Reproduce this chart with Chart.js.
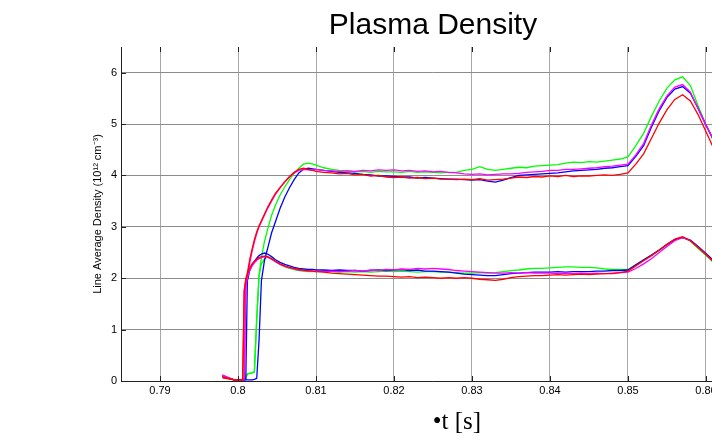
<!DOCTYPE html>
<html>
<head>
<meta charset="utf-8">
<script src="https://cdn.jsdelivr.net/npm/chart.js@4.4.1/dist/chart.umd.min.js"></script>
<style>
  html, body { margin: 0; padding: 0; background: #fff; overflow: hidden; }
  #wrap { width: 712px; height: 443px; overflow: hidden; }
</style>
</head>
<body>
<div id="wrap"><canvas id="chart" width="864" height="443"></canvas></div>
<script>
// time base shared by all traces (s)
const t = [
  0.798, 0.7995, 0.8004, 0.8006, 0.8008, 0.8010, 0.8012, 0.8015, 0.8018, 0.8021,
  0.8024, 0.8027, 0.8030, 0.8034, 0.8038, 0.8043, 0.8048, 0.8054, 0.8060, 0.8066,
  0.8072, 0.8078, 0.8084, 0.8090, 0.8096,
  0.810, 0.811, 0.812, 0.813, 0.814, 0.815, 0.816, 0.817, 0.818, 0.819,
  0.820, 0.821, 0.822, 0.823, 0.824, 0.825, 0.826, 0.827, 0.828, 0.829,
  0.830, 0.831, 0.832, 0.833, 0.834, 0.835, 0.836, 0.837, 0.838, 0.839,
  0.840, 0.841, 0.842, 0.843, 0.844, 0.845, 0.846, 0.847, 0.848, 0.849,
  0.850, 0.851, 0.852, 0.853, 0.854, 0.855, 0.856, 0.857, 0.858, 0.859,
  0.860, 0.861, 0.862
];

// line average density, upper (Hi) and lower (Lo) trace per colour
const redHi = [
  0.08, 0.02, 0.02, 0.03, 1.75, 1.98, 2.10, 2.36, 2.56, 2.75, 2.90, 3.02, 3.12,
  3.25, 3.38, 3.52, 3.65, 3.77, 3.88, 3.98, 4.06, 4.12, 4.14, 4.12, 4.10,
  4.08, 4.06, 4.05, 4.03, 4.04, 4.01, 4.02, 3.99, 4.00, 3.97,
  3.96, 3.97, 3.95, 3.96, 3.94, 3.95, 3.93, 3.93, 3.92, 3.93,
  3.92, 3.94, 3.91, 3.92, 3.93, 3.95, 3.97, 3.96, 3.98, 3.97,
  3.99, 3.98, 4.00, 3.98, 3.99, 3.99, 4.00, 4.01, 4.00, 4.02,
  4.05, 4.22, 4.42, 4.72, 5.02, 5.28, 5.48, 5.57, 5.45, 5.18, 4.85, 4.52, 4.20
];
const redLo = [
  0.06, 0.02, 0.02, 0.03, 1.75, 1.98, 2.08, 2.20, 2.28, 2.33, 2.37, 2.40, 2.42,
  2.43, 2.42, 2.38, 2.33, 2.28, 2.24, 2.21, 2.19, 2.17, 2.16, 2.15, 2.14,
  2.13, 2.12, 2.10, 2.09, 2.08, 2.07, 2.06, 2.05, 2.04, 2.04,
  2.03, 2.02, 2.03, 2.01, 2.02, 2.01, 2.00, 2.01, 2.00, 2.01,
  2.00, 1.98, 1.97, 1.96, 1.98, 2.01, 2.03, 2.04, 2.05, 2.05,
  2.06, 2.07, 2.06, 2.07, 2.08, 2.07, 2.08, 2.09, 2.09, 2.11,
  2.14, 2.24, 2.34, 2.44, 2.55, 2.66, 2.76, 2.81, 2.73, 2.60, 2.46, 2.32, 2.19
];
const magentaHi = [
  0.12, 0.02, 0.02, 0.02, 0.04, 1.85, 2.02, 2.30, 2.52, 2.71, 2.87, 3.00, 3.10,
  3.23, 3.36, 3.50, 3.63, 3.76, 3.87, 3.97, 4.05, 4.10, 4.12, 4.11, 4.10,
  4.12, 4.10, 4.09, 4.08, 4.09, 4.08, 4.10, 4.09, 4.11, 4.10,
  4.11, 4.09, 4.10, 4.08, 4.09, 4.07, 4.08, 4.06, 4.05, 4.03,
  4.02, 4.03, 4.01, 4.02, 4.03, 4.03, 4.04, 4.06, 4.07, 4.08,
  4.10, 4.10, 4.12, 4.12, 4.13, 4.14, 4.15, 4.17, 4.18, 4.20,
  4.22, 4.40, 4.62, 4.98, 5.30, 5.55, 5.72, 5.77, 5.62, 5.30, 4.98, 4.68, 4.38
];
const magentaLo = [
  0.10, 0.02, 0.02, 0.02, 0.04, 1.85, 2.02, 2.15, 2.24, 2.30, 2.35, 2.38, 2.40,
  2.42, 2.41, 2.37, 2.32, 2.27, 2.23, 2.20, 2.18, 2.16, 2.15, 2.14, 2.14,
  2.14, 2.13, 2.14, 2.13, 2.14, 2.15, 2.14, 2.16, 2.15, 2.17,
  2.16, 2.18, 2.17, 2.19, 2.18, 2.19, 2.18, 2.17, 2.15, 2.14,
  2.13, 2.12, 2.11, 2.10, 2.10, 2.11, 2.10, 2.11, 2.10, 2.10,
  2.10, 2.09, 2.10, 2.09, 2.10, 2.09, 2.10, 2.09, 2.10, 2.11,
  2.12, 2.19, 2.28, 2.38, 2.50, 2.62, 2.73, 2.79, 2.73, 2.60, 2.46, 2.31, 2.17
];
const blueHi = [
  0.10, 0.02, 0.02, 0.02, 0.02, 0.02, 0.02, 0.02, 0.02, 0.03, 0.05, 0.80, 1.95,
  2.35, 2.58, 2.88, 3.10, 3.36, 3.58, 3.76, 3.92, 4.05, 4.12, 4.14, 4.13,
  4.12, 4.10, 4.08, 4.06, 4.05, 4.04, 4.02, 4.01, 3.99, 3.99,
  3.98, 3.97, 3.97, 3.95, 3.96, 3.95, 3.94, 3.93, 3.93, 3.92,
  3.91, 3.92, 3.89, 3.87, 3.91, 3.96, 4.00, 4.01, 4.02, 4.03,
  4.04, 4.05, 4.07, 4.09, 4.10, 4.11, 4.12, 4.14, 4.15, 4.17,
  4.19, 4.37, 4.58, 4.94, 5.26, 5.52, 5.68, 5.73, 5.60, 5.30, 4.98, 4.68, 4.38
];
const blueLo = [
  0.10, 0.02, 0.02, 0.02, 0.02, 0.03, 1.95, 2.15, 2.25, 2.33, 2.39, 2.44, 2.47,
  2.49, 2.47, 2.42, 2.36, 2.31, 2.27, 2.24, 2.21, 2.19, 2.18, 2.17, 2.17,
  2.16, 2.16, 2.15, 2.16, 2.15, 2.15, 2.14, 2.15, 2.16, 2.15,
  2.16, 2.17, 2.15, 2.16, 2.14, 2.14, 2.13, 2.12, 2.10, 2.08,
  2.07, 2.06, 2.05, 2.05, 2.07, 2.09, 2.10, 2.11, 2.12, 2.12,
  2.12, 2.13, 2.12, 2.13, 2.13, 2.13, 2.14, 2.14, 2.15, 2.15,
  2.16, 2.26, 2.36, 2.45, 2.55, 2.66, 2.75, 2.79, 2.74, 2.62, 2.48, 2.34, 2.20
];
const greenHi = [
  0.08, 0.02, 0.02, 0.02, 0.03, 0.05, 0.14, 0.15, 0.16, 0.18, 1.20, 2.05, 2.40,
  2.72, 2.95, 3.22, 3.42, 3.62, 3.78, 3.92, 4.04, 4.14, 4.22, 4.24, 4.22,
  4.20, 4.15, 4.12, 4.10, 4.09, 4.07, 4.08, 4.06, 4.08, 4.07,
  4.07, 4.06, 4.08, 4.06, 4.07, 4.06, 4.05, 4.06, 4.06, 4.10,
  4.12, 4.17, 4.12, 4.10, 4.12, 4.14, 4.16, 4.15, 4.18, 4.19,
  4.20, 4.21, 4.24, 4.26, 4.25, 4.27, 4.26, 4.28, 4.30, 4.32,
  4.36, 4.58, 4.82, 5.15, 5.45, 5.70, 5.86, 5.92, 5.75, 5.35, 4.98, 4.66, 4.35
];
const greenLo = [
  0.08, 0.02, 0.02, 0.02, 0.03, 0.05, 0.14, 0.15, 0.16, 0.18, 1.20, 2.05, 2.28,
  2.38, 2.41, 2.38, 2.33, 2.27, 2.22, 2.19, 2.17, 2.15, 2.14, 2.13, 2.13,
  2.13, 2.14, 2.13, 2.12, 2.13, 2.12, 2.13, 2.12, 2.13, 2.14,
  2.13, 2.14, 2.13, 2.12, 2.13, 2.13, 2.12, 2.12, 2.11, 2.10,
  2.10, 2.11, 2.10, 2.11, 2.13, 2.15, 2.16, 2.18, 2.19, 2.19,
  2.20, 2.21, 2.22, 2.22, 2.21, 2.21, 2.20, 2.18, 2.17, 2.17,
  2.17, 2.26, 2.35, 2.44, 2.54, 2.65, 2.75, 2.80, 2.72, 2.58, 2.44, 2.30, 2.16
];

const xTicks = [0.79, 0.80, 0.81, 0.82, 0.83, 0.84, 0.85, 0.86];
const xTickLabels = ['0.79', '0.8', '0.81', '0.82', '0.83', '0.84', '0.85', '0.86'];
const yTicks = [0, 1, 2, 3, 4, 5, 6];
const yTickLabels = ['0', '1', '2', '3', '4', '5', '6'];

const chartTitle = 'Plasma Density';
const yTitle = 'Line Average Density (10\u00b9\u00b2 cm\u207b\u00b3)';
const xTitle = '\u2022t [s]';

// dataset 0 ends up on top
const traces = [
  { data: redHi, color: '#ff0000' },
  { data: redLo, color: '#ff0000' },
  { data: magentaHi, color: '#ff00ff' },
  { data: magentaLo, color: '#ff00ff' },
  { data: blueHi, color: '#0000ff' },
  { data: blueLo, color: '#0000ff' },
  { data: greenHi, color: '#00ff00' },
  { data: greenLo, color: '#00ff00' }
];

const datasets = traces.map(tr => ({
  data: tr.data.map((v, i) => ({ x: t[i], y: v })),
  borderColor: tr.color,
  borderWidth: 1.3,
  pointRadius: 0,
  tension: 0,
  fill: false
}));

// small inward tick marks, matlab style
const tickMarks = {
  id: 'tickMarks',
  afterDatasetsDraw(chart) {
    const { ctx, chartArea, scales } = chart;
    ctx.save();
    ctx.strokeStyle = '#222';
    ctx.lineWidth = 1;
    ctx.beginPath();
    scales.x.ticks.forEach(tk => {
      const px = Math.round(scales.x.getPixelForValue(tk.value)) + 0.5;
      ctx.moveTo(px, chartArea.bottom);
      ctx.lineTo(px, chartArea.bottom - 5);
      ctx.moveTo(px, chartArea.top);
      ctx.lineTo(px, chartArea.top + 5);
    });
    scales.y.ticks.forEach(tk => {
      const py = Math.round(scales.y.getPixelForValue(tk.value)) + 0.5;
      ctx.moveTo(chartArea.left, py);
      ctx.lineTo(chartArea.left + 5, py);
    });
    ctx.stroke();
    ctx.restore();
  }
};

const xLabel = {
  id: 'xLabel',
  afterDraw(chart) {
    const { ctx, chartArea } = chart;
    ctx.save();
    ctx.font = '25px "Liberation Serif", "Times New Roman", serif';
    ctx.fillStyle = '#000';
    ctx.textAlign = 'center';
    ctx.textBaseline = 'middle';
    ctx.fillText(xTitle, (chartArea.left + chartArea.right) / 2 + 24, chartArea.bottom + 41);
    ctx.restore();
  }
};

const tickFont = { family: '"Liberation Sans", Arial, sans-serif', size: 11 };

new Chart(document.getElementById('chart'), {
  type: 'line',
  data: { datasets },
  options: {
    responsive: false,
    animation: false,
    devicePixelRatio: 1,
    events: [],
    layout: { padding: { left: 0, right: 119, top: 0, bottom: 42 } },
    plugins: {
      legend: { display: false },
      tooltip: { enabled: false },
      title: {
        display: true,
        fullSize: false,
        text: chartTitle,
        color: '#000',
        font: { family: '"Liberation Sans", Arial, sans-serif', size: 30, weight: 'normal' },
        padding: { top: 8, bottom: 3 }
      }
    },
    scales: {
      x: {
        type: 'linear',
        min: 0.785,
        max: 0.865,
        afterBuildTicks: s => { s.ticks = xTicks.map(v => ({ value: v })); },
        afterFit: s => { s.height = 20; },
        ticks: {
          callback: (v, i) => xTickLabels[i],
          color: '#000',
          font: tickFont,
          padding: 3,
          maxRotation: 0,
          autoSkip: false
        },
        grid: { color: '#a8a8a8', lineWidth: 1, drawTicks: false },
        border: { color: '#222', width: 1 }
      },
      y: {
        type: 'linear',
        min: 0,
        max: 6.5,
        afterBuildTicks: s => { s.ticks = yTicks.map(v => ({ value: v })); },
        afterFit: s => { s.width = 121; },
        ticks: {
          callback: (v, i) => yTickLabels[i],
          color: '#000',
          font: tickFont,
          padding: 4
        },
        grid: { color: '#8c8c8c', lineWidth: 1, drawTicks: false },
        border: { color: '#222', width: 1 },
        title: {
          display: true,
          text: yTitle,
          color: '#000',
          font: { family: '"Liberation Sans", Arial, sans-serif', size: 11 },
          padding: { top: 91, bottom: 0 }
        }
      }
    }
  },
  plugins: [tickMarks, xLabel]
});
</script>
</body>
</html>
